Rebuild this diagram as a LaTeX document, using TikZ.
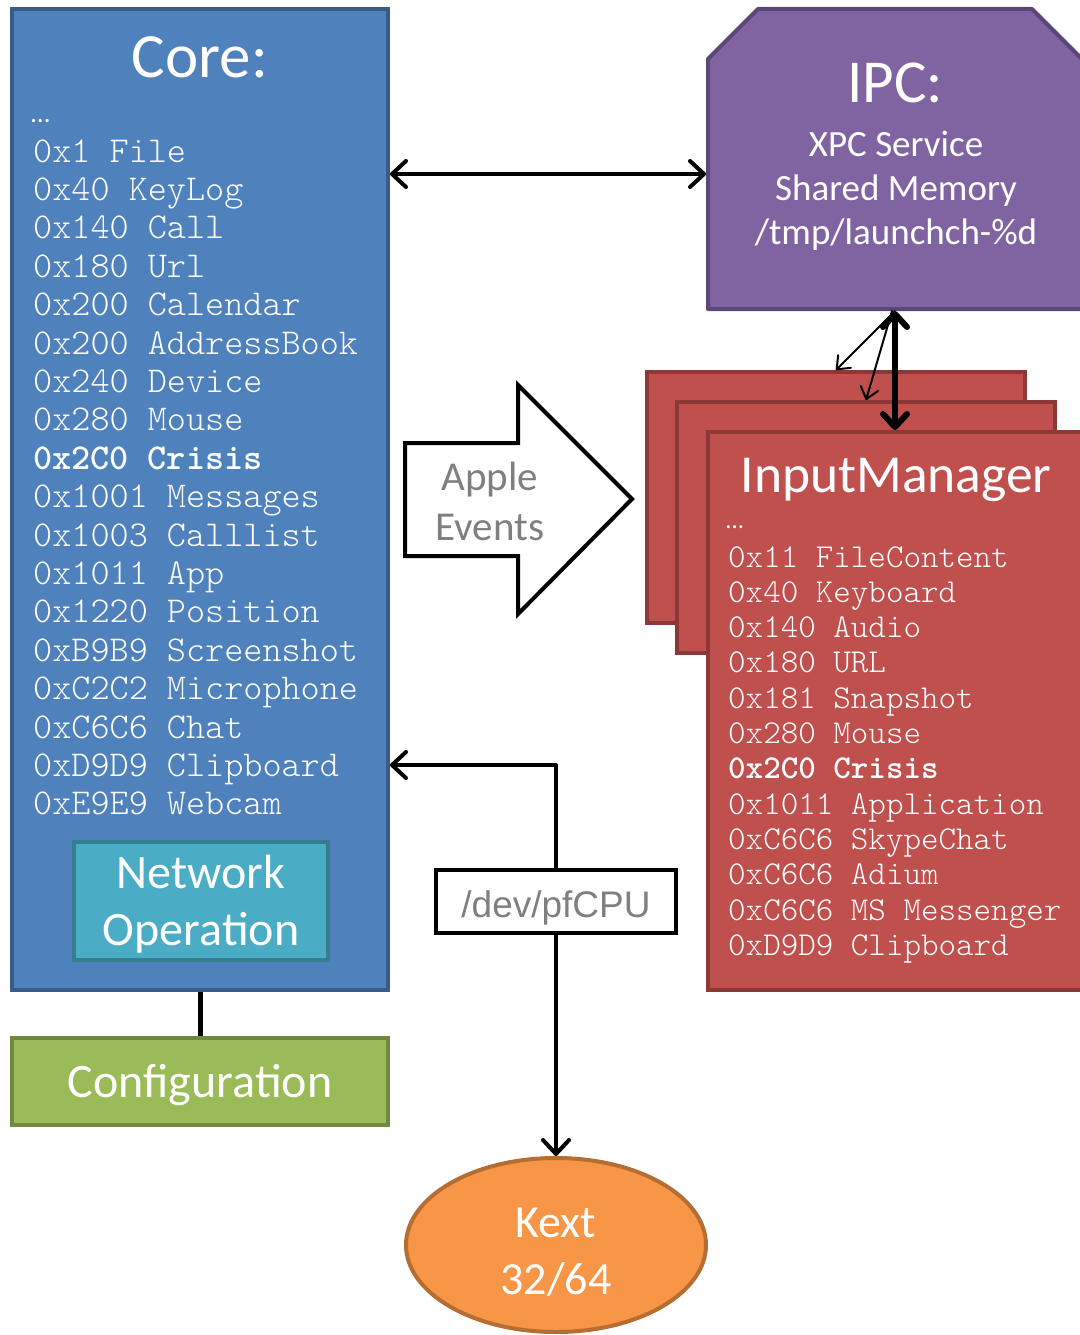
\documentclass[tikz,border=0pt]{standalone}
\usepackage{fontspec}
\setmainfont{Carlito}
\newfontfamily\monofont{lmmonolt10-regular.otf}[BoldFont=lmmonolt10-bold.otf]
\newfontfamily\arialfont{Liberation Sans}
\usetikzlibrary{arrows.meta,shapes.geometric}

\definecolor{corefill}{HTML}{4F81BD}
\definecolor{coreedge}{HTML}{385D8A}
\definecolor{netfill}{HTML}{4BACC6}
\definecolor{netedge}{HTML}{357D91}
\definecolor{cfgfill}{HTML}{9BBB59}
\definecolor{cfgedge}{HTML}{71893F}
\definecolor{ipcfill}{HTML}{8064A2}
\definecolor{ipcedge}{HTML}{5C4776}
\definecolor{imfill}{HTML}{C0504D}
\definecolor{imedge}{HTML}{8C3836}
\definecolor{kextfill}{HTML}{F79646}
\definecolor{kextedge}{HTML}{B66D32}
\definecolor{labelgrey}{HTML}{7F7F7F}

\begin{document}
\begin{tikzpicture}[x=1pt,y=-1pt,
  box/.style={rectangle, line width=4pt, inner sep=0pt},
  corebox/.style={box, draw=coreedge, fill=corefill},
  netbox/.style={box, draw=netedge, fill=netfill},
  cfgbox/.style={box, draw=cfgedge, fill=cfgfill},
  imbox/.style={box, draw=imedge, fill=imfill},
  devbox/.style={box, draw=black, fill=white},
  kextnode/.style={ellipse, line width=4pt, draw=kextedge, fill=kextfill, inner sep=0pt},
  title/.style={anchor=base, text=white, inner sep=0pt},
  monoline/.style={anchor=base west, text=white, inner sep=0pt},
  coremono/.style={monoline, font=\monofont\fontsize{36.4}{38}\selectfont},
  immono/.style={monoline, font=\monofont\fontsize{33.4}{35}\selectfont},
  conn/.style={line width=4pt, black, line cap=round, line join=round},
  thinconn/.style={line width=2pt, black, line cap=round},
  bigtip/.tip={Straight Barb[length=14pt,width=26pt,round]},
  midtip/.tip={Straight Barb[length=13pt,width=24pt,round]},
  smalltip/.tip={Straight Barb[length=11pt,width=18pt,round]},
]

\fill[white] (0,0) rectangle (1079,1335);
\useasboundingbox (0,0) rectangle (1079,1335);

% ---------------- Core ----------------
\node[corebox, minimum width=376pt, minimum height=981pt] (core) at (200,499.5) {};
\node[title, font=\fontsize{63}{70}\selectfont] (core-title) at (200,78) {Core:};
\node[monoline, font=\fontsize{27}{30}\selectfont] (core-dots) at (31,122) {\char"2026};
\foreach \code [count=\i from 0] in {
  0x1 File, 0x40 KeyLog, 0x140 Call, 0x180 Url, 0x200 Calendar,
  0x200 AddressBook, 0x240 Device, 0x280 Mouse, {}, 0x1001 Messages,
  0x1003 Calllist, 0x1011 App, 0x1220 Position, 0xB9B9 Screenshot,
  0xC2C2 Microphone, 0xC6C6 Chat, 0xD9D9 Clipboard, 0xE9E9 Webcam}
  {\node[coremono] (core-l\i) at (33,162+38.4*\i) {\code};}
\node[coremono, font=\monofont\bfseries\fontsize{36.4}{38}\selectfont]
  (core-crisis) at (33,162+38.4*8) {0x2C0 Crisis};

% Network operation
\node[netbox, minimum width=254pt, minimum height=118pt] (net) at (201,901) {};
\node[title, font=\fontsize{48}{57}\selectfont] (net-1) at (201,888) {Network};
\node[title, font=\fontsize{48}{57}\selectfont] (net-2) at (201,945) {Operation};

% ---------------- Configuration ----------------
\node[cfgbox, minimum width=376pt, minimum height=87pt] (cfg) at (200,1081.5) {};
\node[title, font=\fontsize{48}{57}\selectfont] (cfg-text) at (200,1097) {Configuration};

% ---------------- IPC ----------------
\draw[line width=4pt, draw=ipcedge, fill=ipcfill, line join=round]
  (708,309) -- (708,59) -- (758,9) -- (1032,9) -- (1082,59) -- (1082,309) -- cycle;
\node[minimum width=374pt, minimum height=300pt, inner sep=0pt, outer sep=2pt] (ipc) at (895,159) {};
\node[title, font=\fontsize{61}{68}\selectfont] (ipc-title) at (895,103) {IPC:};
\node[title, font=\fontsize{37}{44}\selectfont] (ipc-1) at (896,156) {XPC Service};
\node[title, font=\fontsize{37}{44}\selectfont] (ipc-2) at (896,200) {Shared Memory};
\node[title, font=\fontsize{37}{44}\selectfont] (ipc-3) at (896,244) {/tmp/launchch-\%d};

% ---------------- InputManager stack ----------------
\node[imbox, minimum width=378pt, minimum height=251pt] (imback) at (836,497.5) {};
\node[imbox, minimum width=378pt, minimum height=251pt] (immid) at (866,527.5) {};
\node[imbox, minimum width=382pt, minimum height=558pt] (imfront) at (899,711) {};
\node[title, font=\fontsize{53.5}{60}\selectfont] (im-title) at (896,492) {InputManager};
\node[monoline, font=\fontsize{25}{30}\selectfont] (im-dots) at (726,528) {\char"2026};
\foreach \code [count=\i from 0] in {
  0x11 FileContent, 0x40 Keyboard, 0x140 Audio, 0x180 URL, 0x181 Snapshot,
  0x280 Mouse, {}, 0x1011 Application, 0xC6C6 SkypeChat, 0xC6C6 Adium,
  0xC6C6 MS Messenger, 0xD9D9 Clipboard}
  {\node[immono] (im-l\i) at (728,567+35.3*\i) {\code};}
\node[immono, font=\monofont\bfseries\fontsize{33.4}{35}\selectfont]
  (im-crisis) at (728,567+35.3*6) {0x2C0 Crisis};

% ---------------- Apple Events block arrow ----------------
\draw[line width=4pt, black, fill=white, line join=miter]
  (405,443) -- (518,443) -- (518,385) -- (632,499) -- (518,614) -- (518,556) -- (405,556) -- cycle;
\node[title, text=labelgrey, font=\fontsize{41}{50}\selectfont] (apple-1) at (490,490) {Apple};
\node[title, text=labelgrey, font=\fontsize{41}{50}\selectfont] (apple-2) at (490,540) {Events};

% ---------------- /dev/pfCPU ----------------
\node[devbox, minimum width=240pt, minimum height=63pt] (pfcpu) at (556,901.5) {};
\node[title, text=labelgrey, font=\arialfont\fontsize{37}{44}\selectfont] (pfcpu-text) at (556,917) {/dev/pfCPU};

% ---------------- Kext ----------------
\node[kextnode, minimum width=300pt, minimum height=174pt] (kext) at (556,1245) {};
\node[title, font=\fontsize{46}{55}\selectfont] (kext-1) at (556,1237) {Kext};
\node[title, font=\fontsize{46}{55}\selectfont] (kext-2) at (556,1294) {32/64};

% ---------------- Connectors ----------------
\coordinate (linkrow) at (0,174);
\coordinate (devturn) at (556,765);

\draw[conn, bigtip-bigtip] (core.east |- linkrow) -- (ipc.west |- linkrow);
\draw[conn, line width=5pt, line cap=butt] (core.south) -- (cfg.north);
\draw[conn, -bigtip] (pfcpu.north) -- (devturn) -- (core.east |- devturn);
\draw[conn, -bigtip] (pfcpu.south) -- (kext.north);

\draw[thinconn, -smalltip] (ipc.south) -- (imback.north);
\draw[thinconn, -smalltip] ([xshift=-3pt]ipc.south) -- (immid.north);
\draw[conn, line width=6pt, midtip-midtip] (ipc.south) -- (ipc.south |- imfront.north);

\end{tikzpicture}
\end{document}
